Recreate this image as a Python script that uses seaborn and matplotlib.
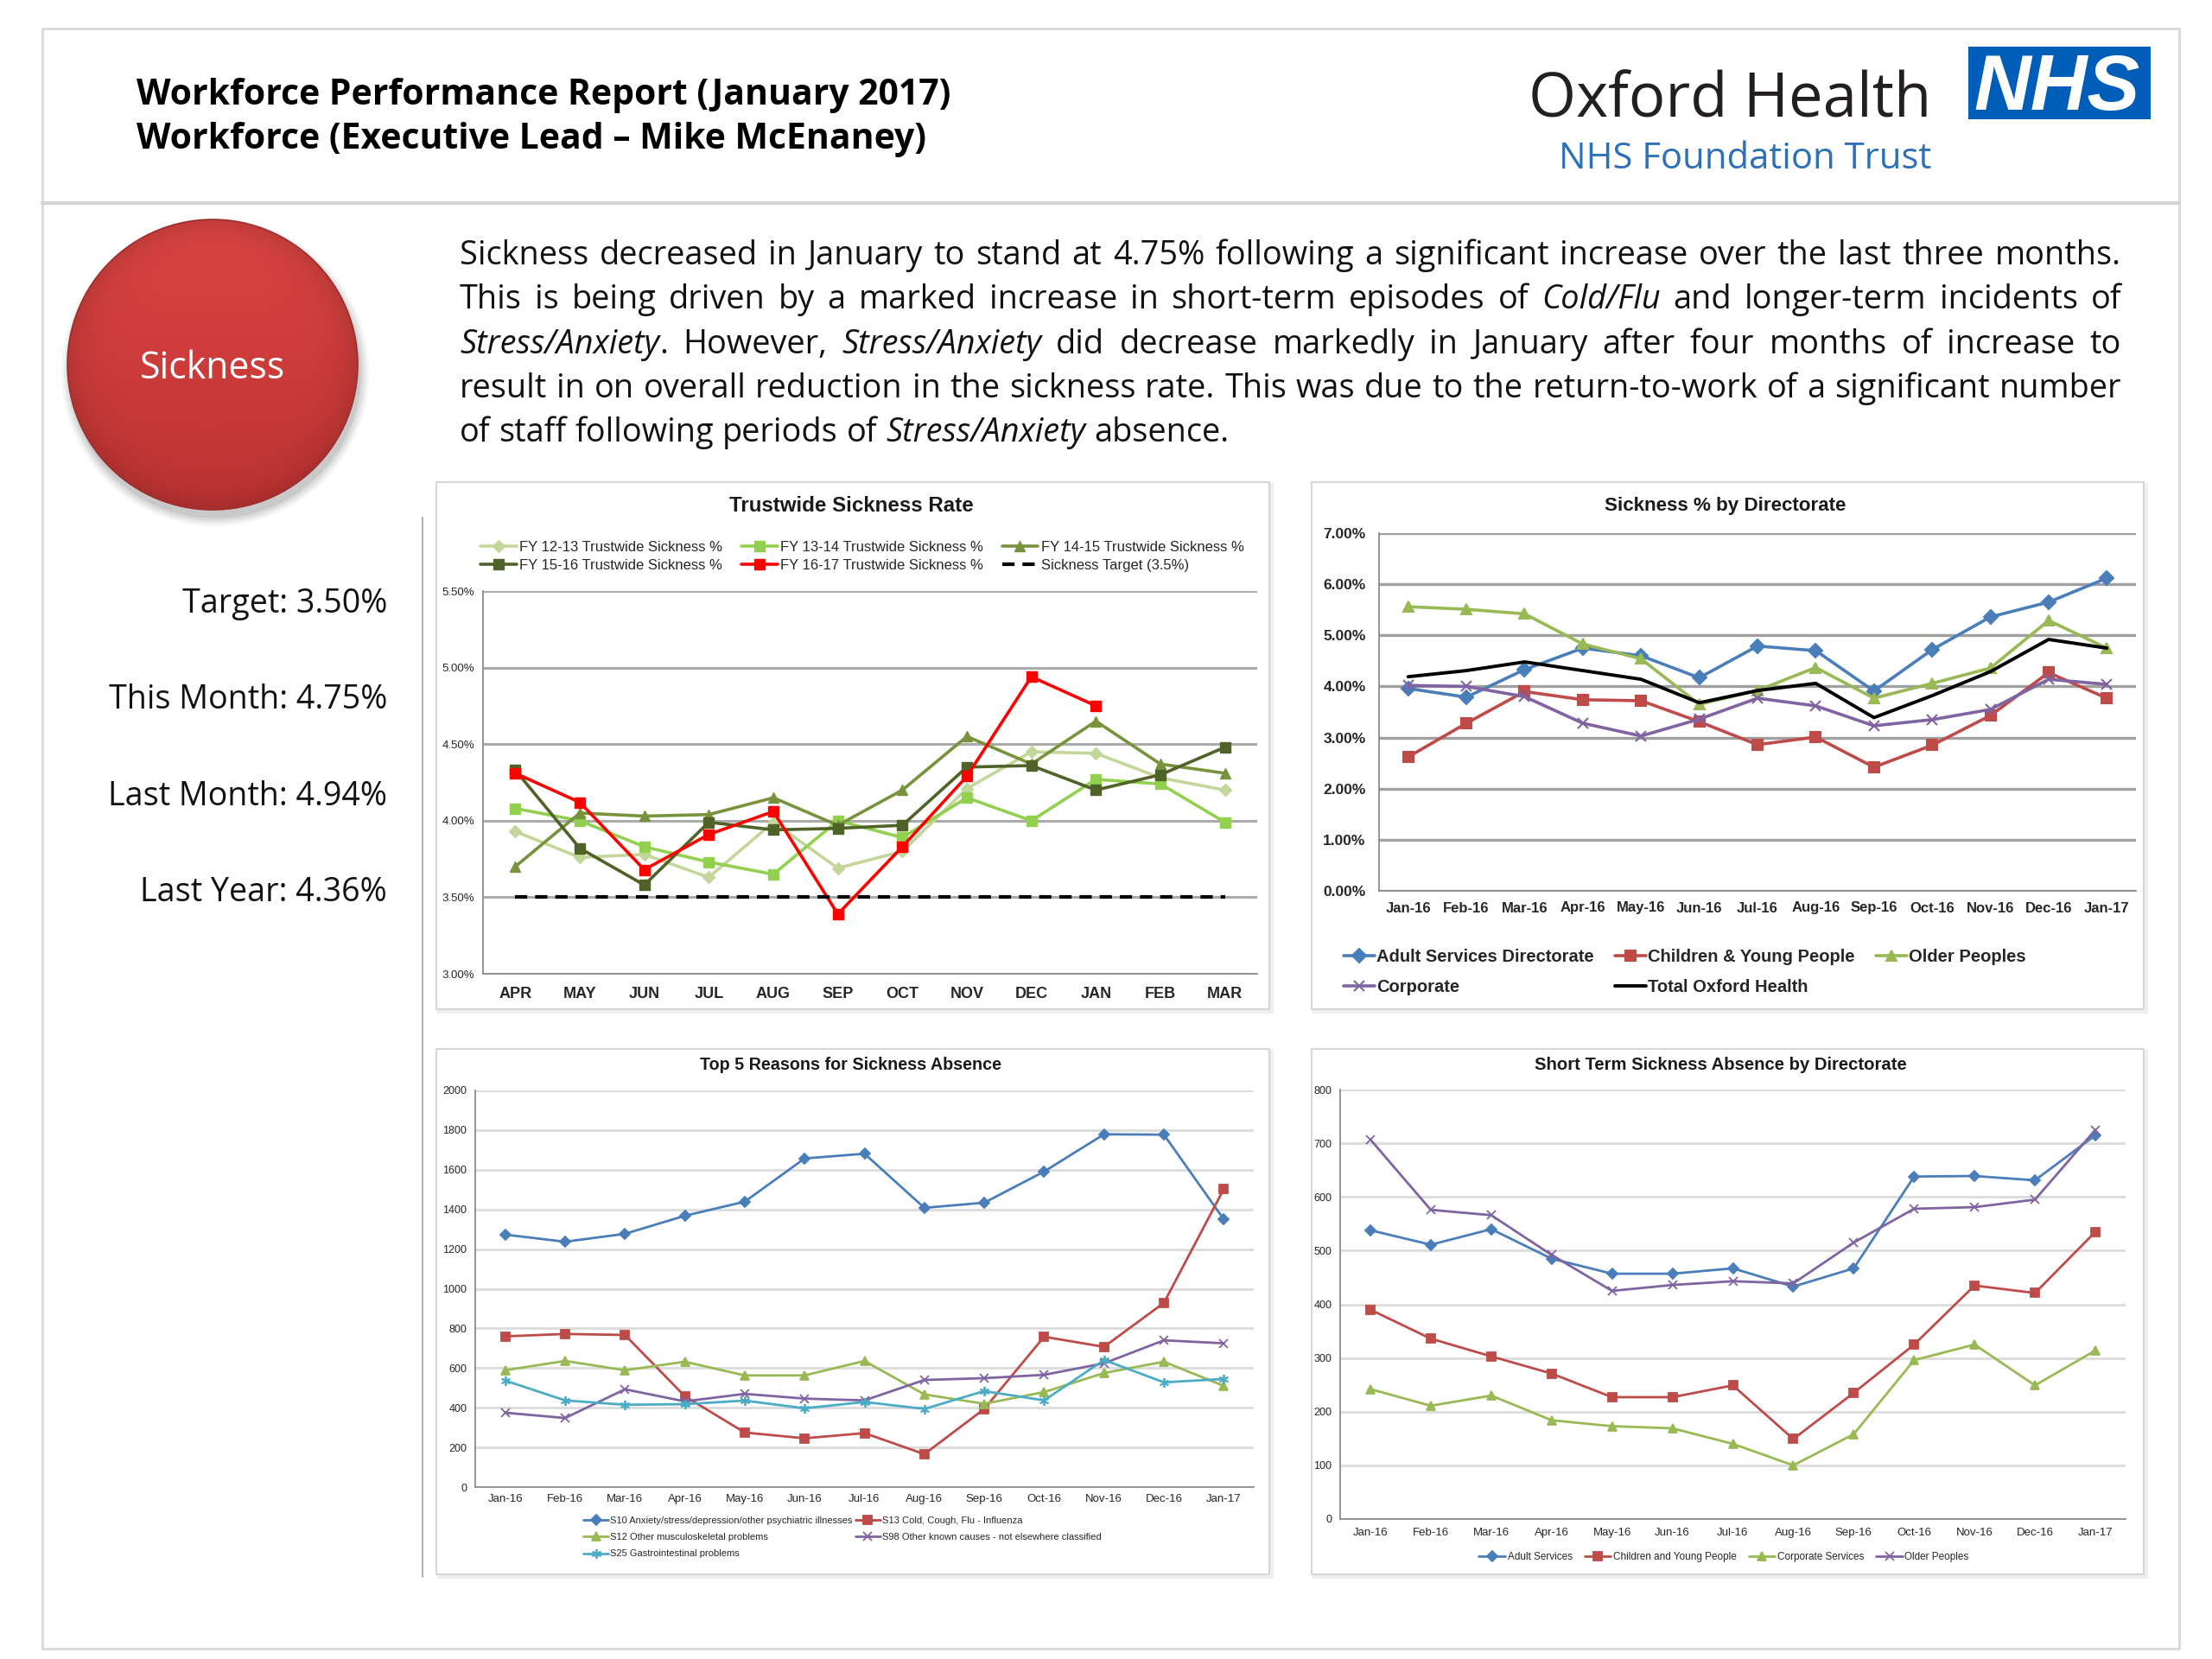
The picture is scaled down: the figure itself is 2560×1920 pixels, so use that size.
import re
import numpy as np
import pandas as pd
import matplotlib
matplotlib.use("Agg")
import matplotlib.pyplot as plt
import seaborn as sns
from matplotlib.patches import Rectangle, Circle
from matplotlib.ticker import FuncFormatter

# ======================= DATA =======================
fy_months = ["APR", "MAY", "JUN", "JUL", "AUG", "SEP", "OCT", "NOV", "DEC", "JAN", "FEB", "MAR"]
fy12_13 = [3.93, 3.76, 3.78, 3.63, 3.99, 3.69, 3.80, 4.21, 4.45, 4.44, 4.28, 4.20]
fy13_14 = [4.08, 4.00, 3.83, 3.73, 3.65, 4.00, 3.89, 4.15, 4.00, 4.27, 4.24, 3.99]
fy14_15 = [3.70, 4.05, 4.03, 4.04, 4.15, 3.97, 4.20, 4.55, 4.37, 4.65, 4.37, 4.31]
fy15_16 = [4.33, 3.82, 3.58, 3.99, 3.94, 3.95, 3.97, 4.35, 4.36, 4.20, 4.30, 4.48]
fy16_17 = [4.31, 4.12, 3.68, 3.91, 4.06, 3.39, 3.83, 4.29, 4.94, 4.75, np.nan, np.nan]
sickness_target = [3.50, 3.50, 3.50, 3.50, 3.50, 3.50, 3.50, 3.50, 3.50, 3.50, 3.50, 3.50]
trust_labels = ["FY 12-13 Trustwide Sickness %", "FY 13-14 Trustwide Sickness %",
                "FY 14-15 Trustwide Sickness %", "FY 15-16 Trustwide Sickness %",
                "FY 16-17 Trustwide Sickness %", "Sickness Target (3.5%)"]

dir_months = ["Jan-16", "Feb-16", "Mar-16", "Apr-16", "May-16", "Jun-16", "Jul-16",
              "Aug-16", "Sep-16", "Oct-16", "Nov-16", "Dec-16", "Jan-17"]
adult_services_pct = [3.96, 3.79, 4.33, 4.75, 4.60, 4.17, 4.79, 4.70, 3.91, 4.72, 5.36, 5.65, 6.12]
children_young_pct = [2.62, 3.28, 3.90, 3.74, 3.72, 3.31, 2.86, 3.01, 2.42, 2.85, 3.43, 4.27, 3.77]
older_peoples_pct = [5.56, 5.51, 5.42, 4.83, 4.54, 3.65, 3.92, 4.37, 3.77, 4.06, 4.36, 5.29, 4.75]
corporate_pct = [4.02, 4.00, 3.80, 3.28, 3.03, 3.36, 3.77, 3.62, 3.23, 3.35, 3.55, 4.14, 4.04]
total_oxford_pct = [4.19, 4.31, 4.48, 4.31, 4.14, 3.68, 3.92, 4.06, 3.39, 3.82, 4.29, 4.92, 4.75]
dir_labels = ["Adult Services Directorate", "Children & Young People", "Older Peoples",
              "Corporate", "Total Oxford Health"]

s10_anxiety = [1273, 1237, 1277, 1368, 1439, 1657, 1681, 1408, 1434, 1591, 1779, 1777, 1350]
s13_cold_flu = [760, 772, 767, 458, 275, 246, 272, 166, 394, 758, 707, 929, 1503]
s12_musculo = [589, 636, 589, 632, 563, 563, 636, 467, 420, 479, 575, 632, 510]
s98_other = [375, 348, 493, 432, 470, 446, 437, 540, 549, 566, 624, 740, 725]
s25_gastro = [537, 437, 415, 418, 436, 397, 429, 394, 484, 437, 641, 528, 545]
reason_labels = ["S10 Anxiety/stress/depression/other psychiatric illnesses",
                 "S13 Cold, Cough, Flu - Influenza",
                 "S12 Other musculoskeletal problems",
                 "S98 Other known causes - not elsewhere classified",
                 "S25 Gastrointestinal problems"]

st_adult = [538, 511, 540, 485, 457, 457, 467, 433, 467, 638, 639, 631, 715]
st_children = [390, 336, 303, 271, 227, 227, 249, 149, 235, 325, 435, 421, 535]
st_corporate = [242, 211, 230, 184, 173, 169, 140, 100, 158, 296, 325, 249, 314]
st_older = [707, 576, 566, 492, 425, 436, 443, 439, 515, 578, 581, 595, 725]
st_labels = ["Adult Services", "Children and Young People", "Corporate Services", "Older Peoples"]

stat_names = ["Target:", "This Month:", "Last Month:", "Last Year:"]
stat_values = [3.50, 4.75, 4.94, 4.36]

header_lines = ["Workforce Performance Report (January 2017)",
                "Workforce (Executive Lead \u2013 Mike McEnaney)"]
para_lines = [
    "Sickness decreased in January to stand at 4.75% following a significant increase over the last three months.",
    "This is being driven by a marked increase in short-term episodes of _Cold/Flu_ and longer-term incidents of",
    "_Stress/Anxiety_. However, _Stress/Anxiety_ did decrease markedly in January after four months of increase to",
    "result in on overall reduction in the sickness rate. This was due to the return-to-work of a significant number",
    "of staff following periods of _Stress/Anxiety_ absence.",
]

# ======================= SETUP =======================
sns.set_style("white")
plt.rcParams["font.family"] = ["Open Sans", "DejaVu Sans"]
CH = ["Liberation Sans", "DejaVu Sans"]

W, H = 2560, 1920
fig = plt.figure(figsize=(W / 100, H / 100), dpi=100)
fig.patch.set_facecolor("white")
bg = fig.add_axes([0, 0, 1, 1], zorder=0)
bg.set_xlim(0, W)
bg.set_ylim(H, 0)
bg.axis("off")
renderer = fig.canvas.get_renderer()


def text_w(t):
    return t.get_window_extent(renderer).width


def fit_text(x, y, s, target_w, **kw):
    t = bg.text(x, y, s, fontsize=20, **kw)
    t.set_fontsize(20 * target_w / text_w(t))
    return t


# ---------- frame ----------
bg.add_patch(Rectangle((49, 33), 2473, 1875, fill=False, ec="#D9D9D9", lw=2, zorder=1))
bg.plot([49, 2522], [235, 235], color="#D3D3D3", lw=3, zorder=1)

# ---------- header ----------
t1 = fit_text(158, 121, header_lines[0], 942, fontweight="bold", color="black", va="baseline")
bg.text(158, 172, header_lines[1], fontsize=t1.get_fontsize(), fontweight="bold",
        color="black", va="baseline")
fit_text(2235, 135, "Oxford Health", 466, color="#231F20", ha="right", va="baseline")
fit_text(2235, 195, "NHS Foundation Trust", 431, color="#2B70B8", ha="right", va="baseline")
bg.add_patch(Rectangle((2278, 54), 211, 84, color="#005EB8", lw=0, zorder=2))
fit_text(2381, 127, "NHS", 192, color="white", fontweight="bold", fontstyle="italic",
         ha="center", va="baseline", family=["Liberation Sans", "DejaVu Sans"], zorder=3)

# ---------- red circle ----------
cx, cy, r = 246, 422, 168
for k, a in [(10, 0.035), (7, 0.05), (4, 0.06), (1, 0.08)]:
    bg.add_patch(Circle((cx + 3, cy + 9), r + k, color="black", alpha=a, lw=0, zorder=1))
n = 400
yy, xx = np.mgrid[-1:1:n * 1j, -1:1:n * 1j]
tt = (yy + 1) / 2
top_c = np.array([0.86, 0.27, 0.26])
bot_c = np.array([0.74, 0.20, 0.20])
img = top_c * (1 - tt[..., None]) + bot_c * tt[..., None]
rr = np.sqrt(xx ** 2 + yy ** 2)
img = img * (1 - 0.12 * np.clip(rr, 0, 1) ** 8)[..., None]
im = bg.imshow(img, extent=(cx - r, cx + r, cy + r, cy - r), zorder=2, aspect="auto",
               interpolation="bilinear")
im.set_clip_path(Circle((cx, cy), r, transform=bg.transData))
bg.add_patch(Circle((cx, cy), r, fill=False, ec="#9E2E2E", lw=1.2, zorder=3))
fit_text(cx, 438, "Sickness", 167, color="white", ha="center", va="baseline", zorder=4)
bg.set_xlim(0, W)
bg.set_ylim(H, 0)

# ---------- stats ----------
stat_txt = [f"{nm} {v:.2f}%" for nm, v in zip(stat_names, stat_values)]
ts = fit_text(448, 932, stat_txt[2], 322, color="#111111", ha="right", va="baseline")
for s, yb in zip(stat_txt, [709, 820, 932, 1043]):
    if s == stat_txt[2]:
        continue
    bg.text(448, yb, s, fontsize=ts.get_fontsize(), color="#111111", ha="right", va="baseline")

bg.plot([489, 489], [599, 1825], color="#B0B0B0", lw=1.5, zorder=1)


# ---------- paragraph (justified) ----------
def pieces(word):
    out = []
    for seg in re.split(r"(_[^_]+_)", word):
        if not seg:
            continue
        if seg.startswith("_") and seg.endswith("_"):
            out.append((seg[1:-1], True))
        else:
            out.append((seg, False))
    return out


def measure(s, fs, italic):
    t = bg.text(0, 0, s, fontsize=fs, fontstyle="italic" if italic else "normal")
    w = text_w(t)
    t.remove()
    return w


def layout_widths(fs):
    sp = measure("a a", fs, False) - measure("aa", fs, False)
    lines = []
    for ln in para_lines:
        words = [pieces(w) for w in ln.split(" ")]
        ww = [[measure(p, fs, it) for p, it in wd] for wd in words]
        lines.append((words, ww))
    return sp, lines


PX0, PX1 = 532, 2455
fs0 = 20
sp, lines = layout_widths(fs0)
nat = [sum(sum(w) for w in ww) + sp * (len(ww) - 1) for _, ww in lines[:4]]
fs = fs0 * 0.99 * (PX1 - PX0) / max(nat)
sp, lines = layout_widths(fs)
baselines = [306, 357, 409, 460, 511]
for li, ((words, ww), yb) in enumerate(zip(lines, baselines)):
    total = sum(sum(w) for w in ww)
    gap = sp if li == len(lines) - 1 else ((PX1 - PX0) - total) / (len(words) - 1)
    x = PX0
    for wd, wl in zip(words, ww):
        for (p, it), pw in zip(wd, wl):
            bg.text(x, yb, p, fontsize=fs, fontstyle="italic" if it else "normal",
                    color="#111111", va="baseline", ha="left")
            x += pw
        x += gap

# ---------- chart panels ----------
for (x0, y0, x1, y1) in [(505, 558, 1469, 1168), (1518, 558, 2481, 1168),
                         (505, 1214, 1469, 1822), (1518, 1214, 2481, 1822)]:
    bg.add_patch(Rectangle((x0 + 3, y0 + 3), x1 - x0, y1 - y0, fill=False, ec="#EFEFEF", lw=3, zorder=1))
    bg.add_patch(Rectangle((x0, y0), x1 - x0, y1 - y0, fc="white", ec="#D6D6D6", lw=1.5, zorder=1))


def px_axes(x0, y0, x1, y1):
    return fig.add_axes([x0 / W, 1 - y1 / H, (x1 - x0) / W, (y1 - y0) / H], zorder=2)


def style(ax, labels, ylim, yticks, fmt, grid_c, grid_lw, ysize, xsize, bold, xpad, ypad):
    nn = len(labels)
    ax.set_xlim(-0.5, nn - 0.5)
    ax.set_ylim(*ylim)
    ax.set_yticks(yticks)
    ax.yaxis.set_major_formatter(FuncFormatter(fmt))
    ax.set_xticks(np.arange(nn))
    ax.set_xticklabels(labels)
    ax.set_xticks(np.arange(nn + 1) - 0.5, minor=True)
    ax.tick_params(axis="x", which="major", length=0, pad=xpad)
    ax.tick_params(axis="x", which="minor", length=7, width=1.2, color="#8C8C8C")
    ax.tick_params(axis="y", length=0, pad=ypad)
    ax.grid(axis="y", color=grid_c, lw=grid_lw)
    ax.grid(axis="x", visible=False)
    ax.set_axisbelow(True)
    sns.despine(ax=ax)
    for s in ("left", "bottom"):
        ax.spines[s].set_color("#8C8C8C")
        ax.spines[s].set_linewidth(1.3)
    ax.set_xlabel("")
    ax.set_ylabel("")
    w = "bold" if bold else "normal"
    for lb in ax.get_xticklabels():
        lb.set_fontfamily(CH)
        lb.set_fontsize(xsize)
        lb.set_fontweight(w)
        lb.set_color("#262626")
    for lb in ax.get_yticklabels():
        lb.set_fontfamily(CH)
        lb.set_fontsize(ysize)
        lb.set_fontweight(w)
        lb.set_color("#262626")
    ax.patch.set_alpha(0)


def put_legend(ax, order, ncol, cx_, cy_, size, bold=False, **kw):
    h, l = ax.get_legend_handles_labels()
    if ax.get_legend() is not None:
        ax.get_legend().remove()
    leg = ax.legend([h[i] for i in order], [l[i] for i in order], ncol=ncol, loc="center",
                    bbox_to_anchor=(cx_ / W, 1 - cy_ / H), bbox_transform=fig.transFigure,
                    frameon=False, prop={"family": CH, "size": size,
                                         "weight": "bold" if bold else "normal"}, **kw)
    for t in leg.get_texts():
        t.set_color("#262626")
    return leg


def title(x, y, s, target_w):
    t = bg.text(x, y, s, ha="center", va="center", fontsize=16, fontweight="bold",
                family=CH, color="#1a1a1a", zorder=3)
    t.set_fontsize(16 * target_w / text_w(t))


# ---------- chart 1: Trustwide Sickness Rate ----------
ax1 = px_axes(559, 684, 1455, 1127)
x12 = np.arange(len(fy_months))
s1 = [(fy12_13, "#C4D79B", "D", 7), (fy13_14, "#92D050", "s", 8), (fy14_15, "#77933C", "^", 8),
      (fy15_16, "#4F6228", "s", 8.5), (fy16_17, "#FF0000", "s", 8.5)]
for (vals, col, mk, ms), lab in zip(s1, trust_labels):
    sns.lineplot(x=x12, y=vals, ax=ax1, color=col, marker=mk, markersize=ms,
                 markeredgecolor=col, markeredgewidth=1, lw=2.6, label=lab)
sns.lineplot(x=x12, y=sickness_target, ax=ax1, color="black", lw=3, linestyle="--",
             label=trust_labels[5])
ax1.lines[-1].set_dashes([3.4, 2.2])
style(ax1, fy_months, (3.0, 5.5), [3.0, 3.5, 4.0, 4.5, 5.0, 5.5], lambda v, _: f"{v:.2f}%",
      "#ABABAB", 2.2, 9.5, 13, False, 11, 7)
for lb in ax1.get_xticklabels():
    lb.set_fontweight("bold")
put_legend(ax1, [0, 3, 1, 4, 2, 5], 3, 998, 644, 12, handlelength=2.5, columnspacing=1.3,
           labelspacing=0.35, handletextpad=0.2)
title(985, 585, "Trustwide Sickness Rate", 283)

# ---------- chart 2: Sickness % by Directorate ----------
ax2 = px_axes(1596, 617, 2472, 1031)
x13 = np.arange(len(dir_months))
s2 = [(adult_services_pct, "#4A7EBB", "D", 8), (children_young_pct, "#BE4B48", "s", 9),
      (older_peoples_pct, "#98B954", "^", 9), (corporate_pct, "#8064A2", "x", 9),
      (total_oxford_pct, "#000000", None, 0)]
for (vals, col, mk, ms), lab in zip(s2, dir_labels):
    if mk is None:
        sns.lineplot(x=x13, y=vals, ax=ax2, color=col, lw=2.8, label=lab)
    else:
        sns.lineplot(x=x13, y=vals, ax=ax2, color=col, marker=mk, markersize=ms,
                     markeredgecolor=col, markeredgewidth=1.5, lw=2.6, label=lab)
style(ax2, dir_months, (0, 7), np.arange(0, 8, 1), lambda v, _: f"{v:.2f}%",
      "#A0A0A0", 2.4, 12.5, 12, True, 9, 11)
put_legend(ax2, [0, 3, 1, 4, 2], 3, 1950, 1125, 14.5, bold=True, handlelength=1.8,
           columnspacing=1.2, labelspacing=0.75, handletextpad=0.1)
title(1997, 585, "Sickness % by Directorate", 279)

# ---------- chart 3: Top 5 Reasons ----------
ax3 = px_axes(550, 1262, 1451, 1721)
s3 = [(s10_anxiety, "#4A7EBB", "D", 6), (s13_cold_flu, "#BE4B48", "s", 7),
      (s12_musculo, "#98B954", "^", 7), (s98_other, "#8064A2", "x", 7),
      (s25_gastro, "#4BACC6", (6, 2, 0), 8)]
for (vals, col, mk, ms), lab in zip(s3, reason_labels):
    sns.lineplot(x=x13, y=vals, ax=ax3, color=col, marker=mk, markersize=ms,
                 markeredgecolor=col, markeredgewidth=1.3, lw=2.0, label=lab)
style(ax3, dir_months, (0, 2000), np.arange(0, 2001, 200), lambda v, _: f"{v:.0f}",
      "#DCDCDC", 2.0, 9, 9.5, False, 6, 7)
put_legend(ax3, [0, 2, 4, 1, 3], 2, 975, 1779, 8, handlelength=2.6, columnspacing=0.3,
           labelspacing=0.85, handletextpad=0.2)
title(985, 1233, "Top 5 Reasons for Sickness Absence", 348)

# ---------- chart 4: Short Term Sickness Absence ----------
ax4 = px_axes(1551, 1261, 2460, 1758)
s4 = [(st_adult, "#4A7EBB", "D", 6), (st_children, "#BE4B48", "s", 7),
      (st_corporate, "#98B954", "^", 7), (st_older, "#8064A2", "x", 7)]
for (vals, col, mk, ms), lab in zip(s4, st_labels):
    sns.lineplot(x=x13, y=vals, ax=ax4, color=col, marker=mk, markersize=ms,
                 markeredgecolor=col, markeredgewidth=1.3, lw=2.0, label=lab)
style(ax4, dir_months, (0, 800), np.arange(0, 801, 100), lambda v, _: f"{v:.0f}",
      "#DCDCDC", 2.0, 9, 9.5, False, 7, 7)
put_legend(ax4, [0, 1, 2, 3], 4, 1995, 1802, 8.5, handlelength=2.6, columnspacing=1.2,
           handletextpad=0.2)
title(1991, 1233, "Short Term Sickness Absence by Directorate", 430)

fig.savefig("out.png", dpi=100, facecolor="white")
